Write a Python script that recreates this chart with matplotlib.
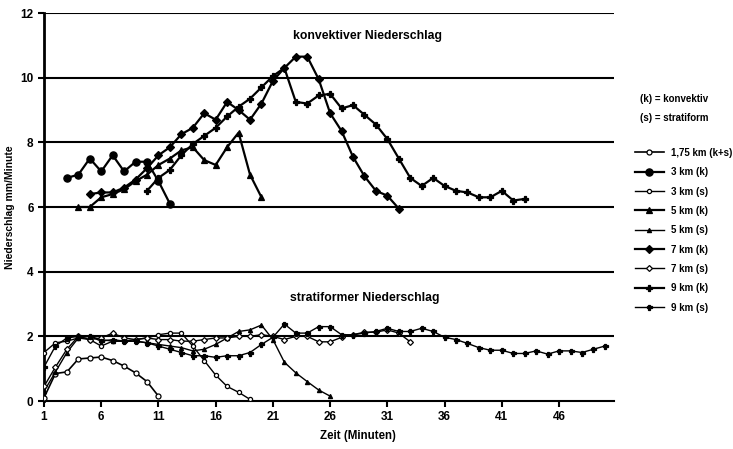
import numpy as np
import matplotlib
matplotlib.use("Agg")
import matplotlib.pyplot as plt

plt.rcParams['font.family'] = ['Liberation Sans', 'DejaVu Sans']
plt.rcParams['font.weight'] = 'bold'

# Niederschlagsraten (mm/Minute) je Minute, Startminute + Werte
start_175 = 1
rate_175 = [0.1, 0.85, 0.9, 1.3, 1.33, 1.36, 1.25, 1.08, 0.87, 0.6, 0.15]

start_3k = 3
rate_3k = [6.9, 7.0, 7.5, 7.1, 7.6, 7.1, 7.4, 7.4, 6.8, 6.1]

start_3s = 1
rate_3s = [1.5, 1.8, 1.85, 1.95, 1.9, 1.7, 1.85, 1.85, 1.9, 1.95, 2.05, 2.1,
           2.1, 1.7, 1.25, 0.8, 0.45, 0.27, 0.05]

start_5k = 4
rate_5k = [6.0, 6.0, 6.3, 6.4, 6.55, 6.8, 7.0, 7.3, 7.5, 7.75, 7.85, 7.45,
           7.3, 7.85, 8.3, 7.0, 6.3]

start_5s = 1
rate_5s = [0.3, 0.9, 1.5, 1.95, 2.0, 1.9, 1.85, 1.85, 1.85, 1.8, 1.75, 1.7,
           1.65, 1.55, 1.6, 1.75, 1.95, 2.15, 2.2, 2.35, 1.9, 1.2, 0.87, 0.6,
           0.34, 0.15]

start_7k = 5
rate_7k = [6.4, 6.45, 6.45, 6.6, 6.85, 7.2, 7.6, 7.85, 8.25, 8.45, 8.9, 8.7,
           9.25, 9.0, 8.7, 9.2, 9.9, 10.3, 10.65, 10.65, 9.95, 8.9, 8.35, 7.55,
           6.95, 6.5, 6.35, 5.95]

start_7s = 1
rate_7s = [0.45, 1.05, 1.6, 2.0, 1.9, 1.95, 2.1, 1.95, 1.9, 1.95, 1.9, 1.9,
           1.85, 1.85, 1.9, 1.95, 1.95, 2.0, 2.0, 2.05, 2.0, 1.9, 2.0, 2.0,
           1.83, 1.83, 1.97, 2.05, 2.13, 2.13, 2.2, 2.1, 1.83]

start_9k = 10
rate_9k = [6.5, 6.9, 7.15, 7.6, 7.95, 8.2, 8.45, 8.8, 9.1, 9.35, 9.7, 10.05,
           10.3, 9.25, 9.2, 9.45, 9.5, 9.05, 9.15, 8.85, 8.55, 8.1, 7.5, 6.9,
           6.65, 6.9, 6.65, 6.5, 6.45, 6.3, 6.3, 6.5, 6.2, 6.25]

start_9s = 1
rate_9s = [1.05, 1.7, 1.95, 2.0, 2.0, 1.85, 1.9, 1.85, 1.85, 1.8,
           1.7, 1.6, 1.5, 1.4, 1.4, 1.35, 1.4, 1.4, 1.5, 1.75,
           1.97, 2.38, 2.1, 2.1, 2.3, 2.3, 2.05, 2.05, 2.1, 2.15,
           2.25, 2.15, 2.15, 2.25, 2.15, 1.97, 1.9, 1.78, 1.65, 1.57,
           1.57, 1.47, 1.47, 1.55, 1.45, 1.55, 1.55, 1.5, 1.6, 1.7]

x_ticks = [1, 6, 11, 16, 21, 26, 31, 36, 41, 46]
y_ticks = [0, 2, 4, 6, 8, 10, 12]

# label, start, values, marker, size, filled, linewidth
series = [
    ("1,75 km (k+s)", start_175, rate_175, 'o', 3.6, False, 1.2),
    ("3 km (k)", start_3k, rate_3k, 'o', 5.2, True, 1.6),
    ("3 km (s)", start_3s, rate_3s, 'o', 3.0, False, 1.0),
    ("5 km (k)", start_5k, rate_5k, '^', 5.0, True, 1.6),
    ("5 km (s)", start_5s, rate_5s, '^', 3.0, True, 1.0),
    ("7 km (k)", start_7k, rate_7k, 'D', 4.2, True, 1.6),
    ("7 km (s)", start_7s, rate_7s, 'D', 3.0, False, 1.0),
    ("9 km (k)", start_9k, rate_9k, 'P', 5.0, True, 1.6),
    ("9 km (s)", start_9s, rate_9s, 'P', 3.6, True, 1.0),
]

fig = plt.figure(figsize=(7.33, 4.49), dpi=100)
ax = fig.add_axes([44 / 733, 48 / 449, 570 / 733, 388 / 449])

for y in y_ticks[1:]:
    ax.axhline(y, color='black', lw=1.5, zorder=1)

handles = []
for label, start, vals, mk, ms, filled, lw in series:
    t = np.arange(start, start + len(vals))
    h, = ax.plot(t, vals, color='black', lw=lw, marker=mk, markersize=ms,
                 markerfacecolor='black' if filled else 'white',
                 markeredgecolor='black', markeredgewidth=0.9,
                 label=label, zorder=3)
    handles.append(h)

ax.set_xlim(1, 50.8)
ax.set_ylim(0, 12)
ax.set_xticks(x_ticks)
ax.set_yticks(y_ticks)
ax.tick_params(axis='both', labelsize=8.5, width=1.5, length=4, direction='out',
               colors='black')
for s in ['top', 'right']:
    ax.spines[s].set_visible(False)
ax.spines['left'].set_linewidth(2)
ax.spines['bottom'].set_linewidth(1.5)

ax.set_xlabel("Zeit (Minuten)", fontsize=8.3, fontweight='bold')
ax.xaxis.set_label_coords((358 - 44) / 570, -0.075)
ax.set_ylabel("Niederschlag mm/Minute", fontsize=7.5, fontweight='bold', labelpad=4)

ax.text(29.3, 11.3, "konvektiver Niederschlag", fontsize=8.8, fontweight='bold',
        ha='center', va='center')
ax.text(29.0, 3.2, "stratiformer Niederschlag", fontsize=8.8, fontweight='bold',
        ha='center', va='center')

fig.text(640 / 733, 1 - 99 / 449, "(k) = konvektiv", fontsize=7,
         fontweight='bold', va='center')
fig.text(640 / 733, 1 - 118 / 449, "(s) = stratiform", fontsize=7,
         fontweight='bold', va='center')

leg = fig.legend(handles=handles, loc='upper left',
                 bbox_to_anchor=(631 / 733, 1 - 144 / 449), frameon=False,
                 fontsize=7, handlelength=3.0, handletextpad=0.7,
                 labelspacing=0.96, borderaxespad=0)

fig.savefig("out.png", dpi=100)
